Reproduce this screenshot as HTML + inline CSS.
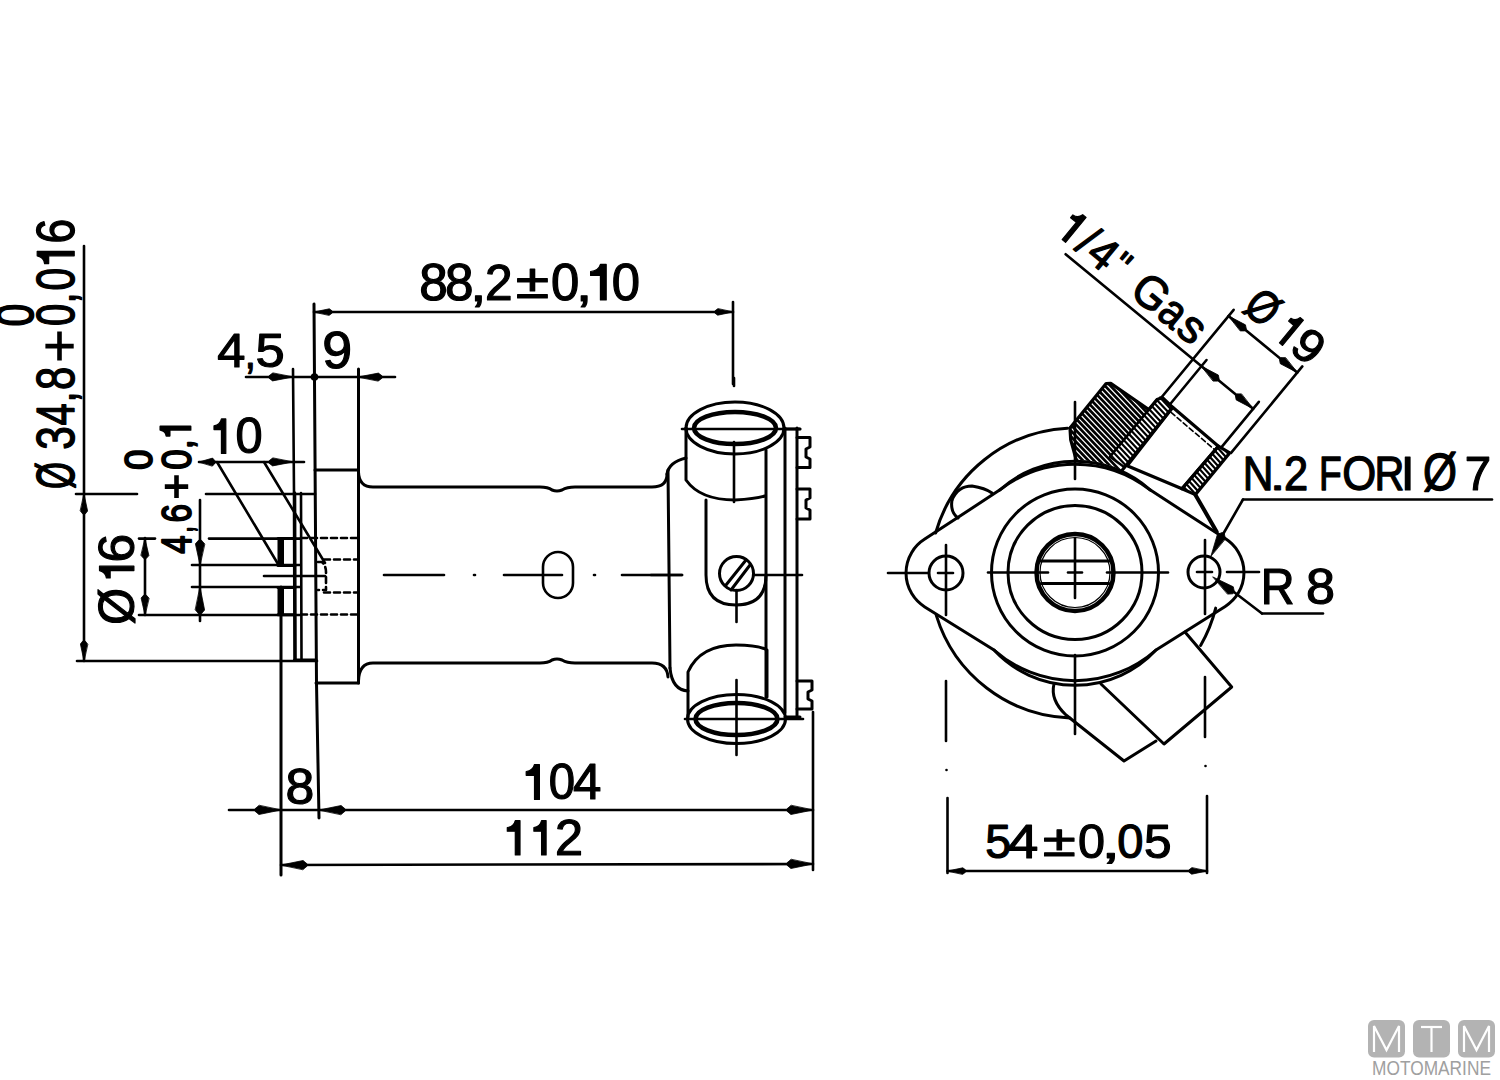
<!DOCTYPE html>
<html><head><meta charset="utf-8"><style>
html,body{margin:0;padding:0;background:#fff;width:1500px;height:1080px;overflow:hidden}
svg{position:absolute;left:0;top:0}
text{font-family:"Liberation Sans",sans-serif}
</style></head><body>
<svg width="1500" height="1080" viewBox="0 0 1500 1080" stroke="#000" stroke-linecap="round" stroke-linejoin="round" fill="none">
<line x1="84.0" y1="246.0" x2="84.0" y2="661.0" stroke-width="2.6"/>
<polygon points="84.0,494.0 87.6,511.0 85.2,514.0 82.8,514.0 80.4,511.0" fill="#000" stroke="#000" stroke-width="0.8"/>
<polygon points="84.0,661.0 80.4,644.0 82.8,641.0 85.2,641.0 87.6,644.0" fill="#000" stroke="#000" stroke-width="0.8"/>
<line x1="76.0" y1="494.0" x2="137.0" y2="494.0" stroke-width="2.6"/>
<line x1="206.0" y1="494.0" x2="315.0" y2="494.0" stroke-width="2.6"/>
<line x1="77.0" y1="661.0" x2="317.0" y2="661.0" stroke-width="2.6"/>
<text x="0" y="0" font-size="100" text-anchor="middle" transform="rotate(-90) translate(-231.1,74.2) scale(0.4457,0.5288)" fill="#000" stroke="#000" stroke-width="1.2" vector-effect="non-scaling-stroke">6</text>
<path d="M0.63,0 L1,0 L1,1 L0.63,1 L0.63,0.31 L0,0.31 L0,0.20 C0.30,0.19 0.55,0.12 0.63,0 Z" transform="rotate(-90) translate(-263.6,37.2) scale(12.300,37.000)" fill="#000" stroke="#000" stroke-width="1.2" vector-effect="non-scaling-stroke"/>
<text x="0" y="0" font-size="100" text-anchor="middle" transform="rotate(-90) translate(-279.2,74.2) scale(0.4083,0.5288)" fill="#000" stroke="#000" stroke-width="1.2" vector-effect="non-scaling-stroke">0</text>
<text x="0" y="0" font-size="100" text-anchor="middle" transform="rotate(-90) translate(-297.8,74.8) scale(0.3900,0.4957)" fill="#000" stroke="#000" stroke-width="1.2" vector-effect="non-scaling-stroke">,</text>
<text x="0" y="0" font-size="100" text-anchor="middle" transform="rotate(-90) translate(-314.8,74.2) scale(0.4000,0.5288)" fill="#000" stroke="#000" stroke-width="1.2" vector-effect="non-scaling-stroke">0</text>
<path d="M59.5,331.6 V360.5 M45.4,346.1 H73.7" stroke-width="4.6" stroke-linecap="butt"/>
<text x="0" y="0" font-size="100" text-anchor="middle" transform="rotate(-90) translate(-378.4,74.2) scale(0.4174,0.5288)" fill="#000" stroke="#000" stroke-width="1.2" vector-effect="non-scaling-stroke">8</text>
<text x="0" y="0" font-size="100" text-anchor="middle" transform="rotate(-90) translate(-396.8,74.8) scale(0.3900,0.4957)" fill="#000" stroke="#000" stroke-width="1.2" vector-effect="non-scaling-stroke">,</text>
<text x="0" y="0" font-size="100" text-anchor="middle" transform="rotate(-90) translate(-414.4,74.2) scale(0.3980,0.5281)" fill="#000" stroke="#000" stroke-width="1.2" vector-effect="non-scaling-stroke">4</text>
<text x="0" y="0" font-size="100" text-anchor="middle" transform="rotate(-90) translate(-438.1,74.2) scale(0.4234,0.5288)" fill="#000" stroke="#000" stroke-width="1.2" vector-effect="non-scaling-stroke">3</text>
<text x="0" y="0" font-size="100" text-anchor="middle" transform="rotate(-90) translate(-475.6,74.2) scale(0.3471,0.5295)" fill="#000" stroke="#000" stroke-width="1.2" vector-effect="non-scaling-stroke">Ø</text>
<text x="0" y="0" font-size="100" text-anchor="middle" transform="rotate(-90) translate(-315.0,33.3) scale(0.4104,0.5246)" fill="#000" stroke="#000" stroke-width="1.5" vector-effect="non-scaling-stroke">0</text>
<line x1="145.0" y1="538.0" x2="145.0" y2="615.0" stroke-width="2.6"/>
<polygon points="145.0,538.6 148.9,555.6 146.2,558.6 143.8,558.6 141.1,555.6" fill="#000" stroke="#000" stroke-width="0.8"/>
<polygon points="145.0,615.0 141.1,598.0 143.8,595.0 146.2,595.0 148.9,598.0" fill="#000" stroke="#000" stroke-width="0.8"/>
<line x1="139.0" y1="538.6" x2="155.0" y2="538.6" stroke-width="2.6"/>
<line x1="209.0" y1="538.6" x2="300.0" y2="538.6" stroke-width="2.6"/>
<line x1="139.0" y1="615.0" x2="300.0" y2="615.0" stroke-width="2.6"/>
<text x="0" y="0" font-size="100" text-anchor="middle" transform="rotate(-90) translate(-548.1,133.9) scale(0.5174,0.4917)" fill="#000" stroke="#000" stroke-width="1.2" vector-effect="non-scaling-stroke">6</text>
<path d="M0.63,0 L1,0 L1,1 L0.63,1 L0.63,0.31 L0,0.31 L0,0.20 C0.30,0.19 0.55,0.12 0.63,0 Z" transform="rotate(-90) translate(-578.0,99.5) scale(11.800,34.400)" fill="#000" stroke="#000" stroke-width="1.2" vector-effect="non-scaling-stroke"/>
<text x="0" y="0" font-size="100" text-anchor="middle" transform="rotate(-90) translate(-606.4,133.9) scale(0.4714,0.4924)" fill="#000" stroke="#000" stroke-width="1.2" vector-effect="non-scaling-stroke">Ø</text>
<line x1="200.0" y1="500.0" x2="200.0" y2="621.0" stroke-width="2.6"/>
<polygon points="200.0,565.0 195.4,543.8 198.8,540.0 201.2,540.0 204.6,543.8" fill="#000" stroke="#000" stroke-width="0.8"/>
<polygon points="200.0,587.0 204.6,610.0 201.2,614.0 198.8,614.0 195.4,610.0" fill="#000" stroke="#000" stroke-width="0.8"/>
<line x1="192.0" y1="565.0" x2="300.0" y2="565.0" stroke-width="2.6"/>
<line x1="192.0" y1="587.0" x2="300.0" y2="587.0" stroke-width="2.6"/>
<path d="M0.63,0 L1,0 L1,1 L0.63,1 L0.63,0.31 L0,0.31 L0,0.20 C0.30,0.19 0.55,0.12 0.63,0 Z" transform="rotate(-90) translate(-435.8,160.3) scale(9.400,30.300)" fill="#000" stroke="#000" stroke-width="1.7" vector-effect="non-scaling-stroke"/>
<text x="0" y="0" font-size="100" text-anchor="middle" transform="rotate(-90) translate(-444.4,191.6) scale(0.3400,0.3863)" fill="#000" stroke="#000" stroke-width="1.7" vector-effect="non-scaling-stroke">,</text>
<text x="0" y="0" font-size="100" text-anchor="middle" transform="rotate(-90) translate(-459.6,190.7) scale(0.3667,0.4332)" fill="#000" stroke="#000" stroke-width="1.7" vector-effect="non-scaling-stroke">0</text>
<path d="M176.5,475.2 V498.0 M164.8,486.6 H188.2" stroke-width="4.6" stroke-linecap="butt"/>
<text x="0" y="0" font-size="100" text-anchor="middle" transform="rotate(-90) translate(-513.3,190.7) scale(0.3304,0.4332)" fill="#000" stroke="#000" stroke-width="1.7" vector-effect="non-scaling-stroke">6</text>
<text x="0" y="0" font-size="100" text-anchor="middle" transform="rotate(-90) translate(-529.5,191.6) scale(0.2200,0.3863)" fill="#000" stroke="#000" stroke-width="1.7" vector-effect="non-scaling-stroke">,</text>
<text x="0" y="0" font-size="100" text-anchor="middle" transform="rotate(-90) translate(-544.5,190.6) scale(0.3300,0.4321)" fill="#000" stroke="#000" stroke-width="1.7" vector-effect="non-scaling-stroke">4</text>
<text x="0" y="0" font-size="100" text-anchor="middle" transform="rotate(-90) translate(-459.6,152.1) scale(0.3625,0.3875)" fill="#000" stroke="#000" stroke-width="1.9" vector-effect="non-scaling-stroke">0</text>
<line x1="199.0" y1="462.0" x2="304.0" y2="462.0" stroke-width="2.6"/>
<polygon points="199.0,462.0 212.6,458.1 215.0,460.8 215.0,463.2 212.6,465.9" fill="#000" stroke="#000" stroke-width="0.8"/>
<polygon points="293.0,462.0 272.6,465.9 269.0,463.2 269.0,460.8 272.6,458.1" fill="#000" stroke="#000" stroke-width="0.8"/>
<path d="M0.63,0 L1,0 L1,1 L0.63,1 L0.63,0.31 L0,0.31 L0,0.20 C0.30,0.19 0.55,0.12 0.63,0 Z" transform="translate(214.0,418.9) scale(11.800,34.500)" fill="#000" stroke="#000" stroke-width="1.2" vector-effect="non-scaling-stroke"/>
<text x="0" y="0" font-size="100" text-anchor="middle" transform="translate(249.1,453.4) scale(0.4875,0.4931)" fill="#000" stroke="#000" stroke-width="1.2" vector-effect="non-scaling-stroke">0</text>
<line x1="217.0" y1="462.0" x2="278.0" y2="564.0" stroke-width="2.6"/>
<line x1="264.0" y1="462.0" x2="325.0" y2="563.0" stroke-width="2.6"/>
<line x1="246.0" y1="377.0" x2="395.0" y2="377.0" stroke-width="2.6"/>
<circle cx="314.5" cy="377.0" r="3.8" stroke-width="0" fill="#000"/>
<polygon points="293.0,377.0 272.6,380.9 269.0,378.2 269.0,375.8 272.6,373.1" fill="#000" stroke="#000" stroke-width="0.8"/>
<polygon points="358.0,377.0 378.4,373.1 382.0,375.8 382.0,378.2 378.4,380.9" fill="#000" stroke="#000" stroke-width="0.8"/>
<text x="0" y="0" font-size="100" text-anchor="middle" transform="translate(231.2,366.9) scale(0.5060,0.4824)" fill="#000" stroke="#000" stroke-width="1.2" vector-effect="non-scaling-stroke">4</text>
<text x="0" y="0" font-size="100" text-anchor="middle" transform="translate(250.4,367.6) scale(0.4000,0.4500)" fill="#000" stroke="#000" stroke-width="1.2" vector-effect="non-scaling-stroke">,</text>
<text x="0" y="0" font-size="100" text-anchor="middle" transform="translate(270.2,366.9) scale(0.5255,0.4829)" fill="#000" stroke="#000" stroke-width="1.2" vector-effect="non-scaling-stroke">5</text>
<text x="0" y="0" font-size="100" text-anchor="middle" transform="translate(337.2,367.8) scale(0.5370,0.5102)" fill="#000" stroke="#000" stroke-width="1.2" vector-effect="non-scaling-stroke">9</text>
<line x1="293.0" y1="369.0" x2="294.0" y2="493.0" stroke-width="2.6"/>
<line x1="314.0" y1="304.0" x2="316.5" y2="683.0" stroke-width="3.0"/>
<line x1="316.5" y1="683.0" x2="319.0" y2="818.0" stroke-width="3.0"/>
<line x1="358.5" y1="369.0" x2="358.5" y2="683.0" stroke-width="3.0"/>
<line x1="314.0" y1="312.0" x2="733.0" y2="312.0" stroke-width="2.6"/>
<polygon points="314.0,312.0 329.3,308.8 332.0,310.8 332.0,313.2 329.3,315.2" fill="#000" stroke="#000" stroke-width="0.8"/>
<polygon points="733.0,312.0 717.7,315.2 715.0,313.2 715.0,310.8 717.7,308.8" fill="#000" stroke="#000" stroke-width="0.8"/>
<line x1="733.0" y1="302.0" x2="733.0" y2="384.0" stroke-width="2.6"/>
<text x="0" y="0" font-size="100" text-anchor="middle" transform="translate(433.6,300.0) scale(0.5130,0.5088)" fill="#000" stroke="#000" stroke-width="1.2" vector-effect="non-scaling-stroke">8</text>
<text x="0" y="0" font-size="100" text-anchor="middle" transform="translate(459.2,300.0) scale(0.5130,0.5088)" fill="#000" stroke="#000" stroke-width="1.2" vector-effect="non-scaling-stroke">8</text>
<text x="0" y="0" font-size="100" text-anchor="middle" transform="translate(478.4,300.7) scale(0.6000,0.4757)" fill="#000" stroke="#000" stroke-width="1.2" vector-effect="non-scaling-stroke">,</text>
<text x="0" y="0" font-size="100" text-anchor="middle" transform="translate(498.8,300.0) scale(0.4957,0.5086)" fill="#000" stroke="#000" stroke-width="1.2" vector-effect="non-scaling-stroke">2</text>
<text x="0" y="0" font-size="100" text-anchor="middle" transform="translate(532.4,298.4) scale(0.6083,0.4733)" fill="#000" stroke="#000" stroke-width="1.2" vector-effect="non-scaling-stroke">±</text>
<text x="0" y="0" font-size="100" text-anchor="middle" transform="translate(565.2,300.0) scale(0.5083,0.5088)" fill="#000" stroke="#000" stroke-width="1.2" vector-effect="non-scaling-stroke">0</text>
<text x="0" y="0" font-size="100" text-anchor="middle" transform="translate(584.0,300.7) scale(0.6000,0.4757)" fill="#000" stroke="#000" stroke-width="1.2" vector-effect="non-scaling-stroke">,</text>
<path d="M0.63,0 L1,0 L1,1 L0.63,1 L0.63,0.31 L0,0.31 L0,0.20 C0.30,0.19 0.55,0.12 0.63,0 Z" transform="translate(590.6,264.4) scale(15.600,35.600)" fill="#000" stroke="#000" stroke-width="1.2" vector-effect="non-scaling-stroke"/>
<text x="0" y="0" font-size="100" text-anchor="middle" transform="translate(626.0,300.0) scale(0.5083,0.5088)" fill="#000" stroke="#000" stroke-width="1.2" vector-effect="non-scaling-stroke">0</text>
<line x1="315.0" y1="470.0" x2="358.5" y2="470.0" stroke-width="3.0"/>
<line x1="316.0" y1="683.0" x2="358.5" y2="683.0" stroke-width="3.0"/>
<line x1="294.5" y1="493.0" x2="295.0" y2="660.0" stroke-width="3.6"/>
<line x1="301.0" y1="493.0" x2="301.5" y2="660.0" stroke-width="2.6"/>
<line x1="294.5" y1="660.0" x2="316.0" y2="660.0" stroke-width="3.0"/>
<rect x="277.5" y="538" width="6.5" height="27.5" fill="#000" stroke="none"/>
<polyline points="278.0,538.6 295.0,538.6" stroke-width="3.0" fill="none"/>
<polyline points="278.0,565.5 295.0,565.5" stroke-width="3.0" fill="none"/>
<rect x="277.5" y="587" width="6.5" height="28" fill="#000" stroke="none"/>
<polyline points="278.0,587.5 295.0,587.5" stroke-width="3.0" fill="none"/>
<polyline points="278.0,614.8 295.0,614.8" stroke-width="3.0" fill="none"/>
<line x1="264.0" y1="576.0" x2="325.0" y2="576.0" stroke-width="2.6"/>
<g stroke-dasharray="6 4">
<line x1="301.0" y1="538.0" x2="358.0" y2="538.0" stroke-width="2.6"/>
<line x1="324.0" y1="559.5" x2="358.0" y2="559.5" stroke-width="2.6"/>
<line x1="324.0" y1="592.5" x2="358.0" y2="592.5" stroke-width="2.6"/>
<line x1="301.0" y1="614.5" x2="358.0" y2="614.5" stroke-width="2.6"/>
<path d="M318,562 L322,562 Q326,566 326,572 L326,590 L318,590" stroke-width="2.6" fill="none" />
</g>
<line x1="281.0" y1="587.0" x2="281.0" y2="875.0" stroke-width="3.0"/>
<path d="M358.5,472 Q359,487 373,487 L540,487 Q548,487 552,490 Q557,492 562,490 Q567,487 575,487 L652,487 Q667,487 667,474" stroke-width="3.0" fill="none" />
<path d="M358.5,681 Q359,663 373,663 L540,663 Q548,663 552,660 Q557,658 562,660 Q567,663 575,663 L652,663 Q667,663 668,677" stroke-width="3.0" fill="none" />
<rect x="543" y="552" width="30" height="46" rx="15" ry="15" stroke-width="2.6"/>
<line x1="384.0" y1="575.0" x2="444.0" y2="575.0" stroke-width="2.6"/>
<line x1="474.0" y1="575.0" x2="475.0" y2="575.0" stroke-width="2.6"/>
<line x1="504.0" y1="575.0" x2="562.0" y2="575.0" stroke-width="2.6"/>
<line x1="594.0" y1="575.0" x2="595.0" y2="575.0" stroke-width="2.6"/>
<line x1="622.0" y1="575.0" x2="682.0" y2="575.0" stroke-width="2.6"/>
<path d="M667,474 Q669,462 686,458" stroke-width="3.0" fill="none" />
<line x1="668.0" y1="470.0" x2="670.0" y2="668.0" stroke-width="3.0"/>
<path d="M670,668 Q672,690 688,691" stroke-width="3.0" fill="none" />
<path d="M686,428 A49,26 0 0 1 784,428" stroke-width="3.0" fill="none" />
<path d="M686,428 L686,480 Q700,500 735,500 Q755,499 765,496" stroke-width="3.0" fill="none" />
<path d="M686,428 A49,26 0 0 0 784,428" stroke-width="3.0" fill="none" />
<ellipse cx="735.0" cy="428.0" rx="41.0" ry="16.0" stroke-width="4.5" fill="none"/>
<line x1="682.0" y1="429.0" x2="800.0" y2="429.0" stroke-width="2.6"/>
<line x1="734.0" y1="442.0" x2="734.0" y2="502.0" stroke-width="2.6"/>
<line x1="734.0" y1="378.0" x2="734.0" y2="386.0" stroke-width="2.6"/>
<circle cx="736.5" cy="573.5" r="17.0" stroke-width="3.0" fill="none"/>
<line x1="726.0" y1="585.0" x2="746.0" y2="560.0" stroke-width="3"/>
<line x1="731.0" y1="590.0" x2="750.0" y2="565.0" stroke-width="3"/>
<line x1="651.0" y1="575.0" x2="682.0" y2="575.0" stroke-width="2.6"/>
<line x1="754.0" y1="575.0" x2="802.0" y2="575.0" stroke-width="2.6"/>
<line x1="736.5" y1="590.0" x2="736.5" y2="622.0" stroke-width="2.6"/>
<path d="M706,500 L706,575 Q706,605 736,605 Q766,605 766,575" stroke-width="3.0" fill="none" />
<line x1="766.0" y1="450.0" x2="766.0" y2="697.0" stroke-width="3.0"/>
<line x1="785.0" y1="428.0" x2="785.0" y2="713.0" stroke-width="3.0"/>
<line x1="797.0" y1="428.0" x2="797.0" y2="717.0" stroke-width="3.0"/>
<line x1="784.0" y1="429.0" x2="800.0" y2="429.0" stroke-width="3.0"/>
<line x1="785.0" y1="717.0" x2="800.0" y2="717.0" stroke-width="3.0"/>
<polyline points="797.0,437.5 810.0,437.5 810.0,447.0 806.0,449.0 806.0,457.0 810.0,459.0 810.0,467.5 797.0,467.5" stroke-width="3.0" fill="none"/>
<polyline points="797.0,489.0 810.0,489.0 810.0,498.0 806.0,500.0 806.0,508.0 810.0,510.0 810.0,519.0 797.0,519.0" stroke-width="3.0" fill="none"/>
<polyline points="797.0,681.0 812.0,681.0 812.0,690.0 808.0,692.0 808.0,699.0 812.0,701.0 812.0,709.0 797.0,709.0" stroke-width="3.0" fill="none"/>
<path d="M688,717 L688,672 Q700,645 736,645 Q758,645 767,650 L767,697" stroke-width="3.0" fill="none" />
<ellipse cx="736.5" cy="719.0" rx="49.0" ry="24.5" stroke-width="3.0" fill="none"/>
<ellipse cx="736.5" cy="719.0" rx="41.0" ry="16.0" stroke-width="4.5" fill="none"/>
<line x1="685.0" y1="719.0" x2="803.0" y2="719.0" stroke-width="2.6"/>
<line x1="736.5" y1="680.0" x2="736.5" y2="755.0" stroke-width="2.6"/>
<line x1="813.0" y1="712.0" x2="813.0" y2="870.0" stroke-width="2.6"/>
<line x1="229.0" y1="810.0" x2="813.0" y2="810.0" stroke-width="2.6"/>
<polygon points="281.0,810.0 258.9,814.5 255.0,811.2 255.0,808.8 258.9,805.5" fill="#000" stroke="#000" stroke-width="0.8"/>
<polygon points="319.0,810.0 341.1,805.5 345.0,808.8 345.0,811.2 341.1,814.5" fill="#000" stroke="#000" stroke-width="0.8"/>
<polygon points="813.0,810.0 790.9,814.5 787.0,811.2 787.0,808.8 790.9,805.5" fill="#000" stroke="#000" stroke-width="0.8"/>
<text x="0" y="0" font-size="100" text-anchor="middle" transform="translate(299.9,803.8) scale(0.5174,0.5031)" fill="#000" stroke="#000" stroke-width="1.2" vector-effect="non-scaling-stroke">8</text>
<path d="M0.63,0 L1,0 L1,1 L0.63,1 L0.63,0.31 L0,0.31 L0,0.20 C0.30,0.19 0.55,0.12 0.63,0 Z" transform="translate(526.2,764.5) scale(13.200,34.900)" fill="#000" stroke="#000" stroke-width="1.2" vector-effect="non-scaling-stroke"/>
<text x="0" y="0" font-size="100" text-anchor="middle" transform="translate(562.0,799.4) scale(0.4729,0.4988)" fill="#000" stroke="#000" stroke-width="1.2" vector-effect="non-scaling-stroke">0</text>
<text x="0" y="0" font-size="100" text-anchor="middle" transform="translate(587.2,799.4) scale(0.5100,0.4981)" fill="#000" stroke="#000" stroke-width="1.2" vector-effect="non-scaling-stroke">4</text>
<line x1="281.0" y1="865.0" x2="813.0" y2="864.0" stroke-width="2.6"/>
<polygon points="281.0,865.0 303.1,860.5 307.0,863.8 307.0,866.2 303.1,869.5" fill="#000" stroke="#000" stroke-width="0.8"/>
<polygon points="813.0,864.0 790.9,868.5 787.0,865.2 787.0,862.8 790.9,859.5" fill="#000" stroke="#000" stroke-width="0.8"/>
<path d="M0.63,0 L1,0 L1,1 L0.63,1 L0.63,0.31 L0,0.31 L0,0.20 C0.30,0.19 0.55,0.12 0.63,0 Z" transform="translate(507.3,820.6) scale(12.700,34.400)" fill="#000" stroke="#000" stroke-width="1.2" vector-effect="non-scaling-stroke"/>
<path d="M0.63,0 L1,0 L1,1 L0.63,1 L0.63,0.31 L0,0.31 L0,0.20 C0.30,0.19 0.55,0.12 0.63,0 Z" transform="translate(533.9,820.6) scale(12.200,34.400)" fill="#000" stroke="#000" stroke-width="1.2" vector-effect="non-scaling-stroke"/>
<text x="0" y="0" font-size="100" text-anchor="middle" transform="translate(568.9,855.0) scale(0.5043,0.4914)" fill="#000" stroke="#000" stroke-width="1.2" vector-effect="non-scaling-stroke">2</text>
<path d="M935.6,533.0 A145.0,145.0 0 0 1 1067.4,428.2" stroke-width="3.0" fill="none" />
<path d="M1069.9,717.9 A145.0,145.0 0 0 1 936.3,615.4" stroke-width="3.0" fill="none" />
<path d="M1215.7,608.1 A145.0,145.0 0 0 1 1200.6,645.5" stroke-width="3.0" fill="none" />
<path d="M924.8,539.1 L999.6,490.1 A112.9,112.9 0 0 1 1150.4,490.1 L1225.2,538.6 A40,40 0 0 1 1225.2,606.4 L1156.0,650.0 A110.6,110.6 0 0 1 994.0,650.0 L924.8,606.9 A40,40 0 0 1 924.8,539.1 Z" stroke-width="3.0" fill="none" />
<path d="M999.6,490.1 A122.7,122.7 0 0 1 1150.4,490.1" stroke-width="3.0" fill="none" />
<path d="M1156.0,650.0 A122.2,122.2 0 0 1 994.0,650.0" stroke-width="3.0" fill="none" />
<circle cx="1075.0" cy="572.5" r="83.5" stroke-width="3.0" fill="none"/>
<circle cx="1075.0" cy="572.5" r="67.0" stroke-width="3.0" fill="none"/>
<circle cx="1075.0" cy="572.5" r="38.5" stroke-width="4.5" fill="none"/>
<circle cx="1075.0" cy="572.5" r="35.0" stroke-width="1.2" fill="none"/>
<line x1="1041.0" y1="561.0" x2="1109.0" y2="561.0" stroke-width="3.0"/>
<line x1="1041.0" y1="583.5" x2="1109.0" y2="583.5" stroke-width="3.0"/>
<line x1="888.0" y1="573.0" x2="928.0" y2="573.0" stroke-width="2.6"/>
<line x1="938.0" y1="573.0" x2="953.0" y2="573.0" stroke-width="2.6"/>
<line x1="988.0" y1="572.5" x2="1048.0" y2="572.5" stroke-width="2.6"/>
<line x1="1068.0" y1="572.5" x2="1082.0" y2="572.5" stroke-width="2.6"/>
<line x1="1107.0" y1="572.5" x2="1168.0" y2="572.5" stroke-width="2.6"/>
<line x1="1197.0" y1="572.0" x2="1212.0" y2="572.0" stroke-width="2.6"/>
<line x1="1227.0" y1="572.0" x2="1259.0" y2="572.0" stroke-width="2.6"/>
<line x1="1075.0" y1="402.0" x2="1075.0" y2="479.0" stroke-width="2.6"/>
<line x1="1075.0" y1="538.0" x2="1075.0" y2="598.0" stroke-width="2.6"/>
<line x1="1075.0" y1="655.0" x2="1075.0" y2="734.0" stroke-width="2.6"/>
<circle cx="946.0" cy="573.0" r="17.0" stroke-width="3.0" fill="none"/>
<circle cx="1204.0" cy="572.0" r="16.0" stroke-width="3.0" fill="none"/>
<line x1="946.0" y1="545.0" x2="946.0" y2="615.0" stroke-width="2.6"/>
<line x1="946.0" y1="681.0" x2="946.0" y2="741.0" stroke-width="2.6"/>
<line x1="947.5" y1="798.0" x2="947.5" y2="873.0" stroke-width="2.6"/>
<line x1="1205.0" y1="540.0" x2="1205.0" y2="614.0" stroke-width="2.6"/>
<line x1="1205.0" y1="677.0" x2="1205.0" y2="737.0" stroke-width="2.6"/>
<line x1="1207.0" y1="796.0" x2="1207.0" y2="873.0" stroke-width="2.6"/>
<line x1="947.5" y1="871.0" x2="1207.0" y2="871.0" stroke-width="2.6"/>
<polygon points="947.5,871.0 962.8,867.8 965.5,869.8 965.5,872.2 962.8,874.2" fill="#000" stroke="#000" stroke-width="0.8"/>
<polygon points="1207.0,871.0 1191.7,874.2 1189.0,872.2 1189.0,869.8 1191.7,867.8" fill="#000" stroke="#000" stroke-width="0.8"/>
<text x="0" y="0" font-size="100" text-anchor="middle" transform="translate(998.2,857.7) scale(0.4660,0.4829)" fill="#000" stroke="#000" stroke-width="1.2" vector-effect="non-scaling-stroke">5</text>
<text x="0" y="0" font-size="100" text-anchor="middle" transform="translate(1023.0,857.7) scale(0.5500,0.4824)" fill="#000" stroke="#000" stroke-width="1.2" vector-effect="non-scaling-stroke">4</text>
<text x="0" y="0" font-size="100" text-anchor="middle" transform="translate(1059.3,856.3) scale(0.6021,0.4467)" fill="#000" stroke="#000" stroke-width="1.2" vector-effect="non-scaling-stroke">±</text>
<text x="0" y="0" font-size="100" text-anchor="middle" transform="translate(1091.5,857.7) scale(0.4854,0.4831)" fill="#000" stroke="#000" stroke-width="1.2" vector-effect="non-scaling-stroke">0</text>
<text x="0" y="0" font-size="100" text-anchor="middle" transform="translate(1110.8,858.3) scale(0.7200,0.4500)" fill="#000" stroke="#000" stroke-width="1.2" vector-effect="non-scaling-stroke">,</text>
<text x="0" y="0" font-size="100" text-anchor="middle" transform="translate(1130.4,857.7) scale(0.4708,0.4831)" fill="#000" stroke="#000" stroke-width="1.2" vector-effect="non-scaling-stroke">0</text>
<text x="0" y="0" font-size="100" text-anchor="middle" transform="translate(1157.8,857.7) scale(0.4957,0.4829)" fill="#000" stroke="#000" stroke-width="1.2" vector-effect="non-scaling-stroke">5</text>
<path d="M952,500 Q958,486 972,486 Q985,488 992,493" stroke-width="3.0" fill="none" />
<path d="M952,500 Q950,512 958,518" stroke-width="3.0" fill="none" />
<path d="M1054,684 Q1050,700 1066,715 L1124,761 L1156,741" stroke-width="3.0" fill="none" />
<polyline points="1101.0,684.0 1164.0,744.0 1231.7,687.0 1185.0,632.0" stroke-width="3.0" fill="none"/>
<text x="0" y="0" font-size="100" text-anchor="middle" transform="translate(1258.1,489.5) scale(0.4250,0.4883)" fill="#000" stroke="#000" stroke-width="1.2" vector-effect="non-scaling-stroke">N</text>
<text x="0" y="0" font-size="100" text-anchor="middle" transform="translate(1277.5,489.5) scale(0.5800,0.3966)" fill="#000" stroke="#000" stroke-width="1.2" vector-effect="non-scaling-stroke">.</text>
<text x="0" y="0" font-size="100" text-anchor="middle" transform="translate(1296.0,489.5) scale(0.4348,0.4886)" fill="#000" stroke="#000" stroke-width="1.2" vector-effect="non-scaling-stroke">2</text>
<text x="0" y="0" font-size="100" text-anchor="middle" transform="translate(1330.4,489.5) scale(0.3714,0.4883)" fill="#000" stroke="#000" stroke-width="1.2" vector-effect="non-scaling-stroke">F</text>
<text x="0" y="0" font-size="100" text-anchor="middle" transform="translate(1359.2,489.5) scale(0.4368,0.4888)" fill="#000" stroke="#000" stroke-width="1.2" vector-effect="non-scaling-stroke">O</text>
<text x="0" y="0" font-size="100" text-anchor="middle" transform="translate(1389.4,489.5) scale(0.4136,0.4881)" fill="#000" stroke="#000" stroke-width="1.2" vector-effect="non-scaling-stroke">R</text>
<text x="0" y="0" font-size="100" text-anchor="middle" transform="translate(1407.7,489.5) scale(0.5000,0.4883)" fill="#000" stroke="#000" stroke-width="1.2" vector-effect="non-scaling-stroke">I</text>
<text x="0" y="0" font-size="100" text-anchor="middle" transform="translate(1439.9,490.2) scale(0.4371,0.5216)" fill="#000" stroke="#000" stroke-width="1.2" vector-effect="non-scaling-stroke">Ø</text>
<text x="0" y="0" font-size="100" text-anchor="middle" transform="translate(1477.9,489.5) scale(0.4739,0.4881)" fill="#000" stroke="#000" stroke-width="1.2" vector-effect="non-scaling-stroke">7</text>
<line x1="1243.0" y1="499.5" x2="1492.0" y2="499.5" stroke-width="2.6"/>
<line x1="1243.0" y1="499.5" x2="1222.0" y2="536.0" stroke-width="2.6"/>
<polygon points="1211.0,556.0 1217.4,534.4 1222.1,532.5 1224.3,533.6 1225.4,538.6" fill="#000" stroke="#000" stroke-width="0.8"/>
<text x="0" y="0" font-size="100" text-anchor="middle" transform="translate(1277.7,604.4) scale(0.4678,0.4966)" fill="#000" stroke="#000" stroke-width="1.2" vector-effect="non-scaling-stroke">R</text>
<text x="0" y="0" font-size="100" text-anchor="middle" transform="translate(1320.4,604.4) scale(0.5217,0.4974)" fill="#000" stroke="#000" stroke-width="1.2" vector-effect="non-scaling-stroke">8</text>
<line x1="1262.0" y1="613.5" x2="1323.0" y2="613.5" stroke-width="2.6"/>
<line x1="1262.0" y1="613.5" x2="1230.0" y2="589.0" stroke-width="2.6"/>
<polygon points="1213.0,577.0 1233.3,586.8 1234.4,591.9 1232.9,593.8 1227.8,594.1" fill="#000" stroke="#000" stroke-width="0.8"/>
<g transform="translate(1075 573) rotate(-50.5)">
<defs><clipPath id="blk"><polygon points="108.7,-96.1 168,-96.5 173,-47 113,-47 109.1,-29.0 107.0,-36.0 104.4,-43.0 101.2,-50.0 97.5,-57.0 93.0,-64.0 87.8,-71.0 100,-88"/></clipPath><clipPath id="stL"><polygon points="113,-47 191,-47 190,-30 113,-29"/></clipPath><clipPath id="stR"><polygon points="133,29 189,30 191,43 137,43"/></clipPath></defs>
<g clip-path="url(#blk)">
<line x1="88.0" y1="-100.0" x2="79.0" y2="-25.0" stroke-width="2.7"/>
<line x1="92.0" y1="-100.0" x2="83.0" y2="-25.0" stroke-width="2.7"/>
<line x1="96.0" y1="-100.0" x2="87.0" y2="-25.0" stroke-width="2.7"/>
<line x1="100.0" y1="-100.0" x2="91.0" y2="-25.0" stroke-width="2.7"/>
<line x1="104.0" y1="-100.0" x2="95.0" y2="-25.0" stroke-width="2.7"/>
<line x1="108.0" y1="-100.0" x2="99.0" y2="-25.0" stroke-width="2.7"/>
<line x1="112.0" y1="-100.0" x2="103.0" y2="-25.0" stroke-width="2.7"/>
<line x1="116.0" y1="-100.0" x2="107.0" y2="-25.0" stroke-width="2.7"/>
<line x1="120.0" y1="-100.0" x2="111.0" y2="-25.0" stroke-width="2.7"/>
<line x1="124.0" y1="-100.0" x2="115.0" y2="-25.0" stroke-width="2.7"/>
<line x1="128.0" y1="-100.0" x2="119.0" y2="-25.0" stroke-width="2.7"/>
<line x1="132.0" y1="-100.0" x2="123.0" y2="-25.0" stroke-width="2.7"/>
<line x1="136.0" y1="-100.0" x2="127.0" y2="-25.0" stroke-width="2.7"/>
<line x1="140.0" y1="-100.0" x2="131.0" y2="-25.0" stroke-width="2.7"/>
<line x1="144.0" y1="-100.0" x2="135.0" y2="-25.0" stroke-width="2.7"/>
<line x1="148.0" y1="-100.0" x2="139.0" y2="-25.0" stroke-width="2.7"/>
<line x1="152.0" y1="-100.0" x2="143.0" y2="-25.0" stroke-width="2.7"/>
<line x1="156.0" y1="-100.0" x2="147.0" y2="-25.0" stroke-width="2.7"/>
<line x1="160.0" y1="-100.0" x2="151.0" y2="-25.0" stroke-width="2.7"/>
<line x1="164.0" y1="-100.0" x2="155.0" y2="-25.0" stroke-width="2.7"/>
<line x1="168.0" y1="-100.0" x2="159.0" y2="-25.0" stroke-width="2.7"/>
<line x1="172.0" y1="-100.0" x2="163.0" y2="-25.0" stroke-width="2.7"/>
<line x1="176.0" y1="-100.0" x2="167.0" y2="-25.0" stroke-width="2.7"/>
<line x1="180.0" y1="-100.0" x2="171.0" y2="-25.0" stroke-width="2.7"/>
<line x1="184.0" y1="-100.0" x2="175.0" y2="-25.0" stroke-width="2.7"/>
</g>
<g clip-path="url(#stL)">
<line x1="114.0" y1="-50.0" x2="111.0" y2="-27.0" stroke-width="2.2"/>
<line x1="118.0" y1="-50.0" x2="115.0" y2="-27.0" stroke-width="2.2"/>
<line x1="122.0" y1="-50.0" x2="119.0" y2="-27.0" stroke-width="2.2"/>
<line x1="126.0" y1="-50.0" x2="123.0" y2="-27.0" stroke-width="2.2"/>
<line x1="130.0" y1="-50.0" x2="127.0" y2="-27.0" stroke-width="2.2"/>
<line x1="134.0" y1="-50.0" x2="131.0" y2="-27.0" stroke-width="2.2"/>
<line x1="138.0" y1="-50.0" x2="135.0" y2="-27.0" stroke-width="2.2"/>
<line x1="142.0" y1="-50.0" x2="139.0" y2="-27.0" stroke-width="2.2"/>
<line x1="146.0" y1="-50.0" x2="143.0" y2="-27.0" stroke-width="2.2"/>
<line x1="150.0" y1="-50.0" x2="147.0" y2="-27.0" stroke-width="2.2"/>
<line x1="154.0" y1="-50.0" x2="151.0" y2="-27.0" stroke-width="2.2"/>
<line x1="158.0" y1="-50.0" x2="155.0" y2="-27.0" stroke-width="2.2"/>
<line x1="162.0" y1="-50.0" x2="159.0" y2="-27.0" stroke-width="2.2"/>
<line x1="166.0" y1="-50.0" x2="163.0" y2="-27.0" stroke-width="2.2"/>
<line x1="170.0" y1="-50.0" x2="167.0" y2="-27.0" stroke-width="2.2"/>
<line x1="174.0" y1="-50.0" x2="171.0" y2="-27.0" stroke-width="2.2"/>
<line x1="178.0" y1="-50.0" x2="175.0" y2="-27.0" stroke-width="2.2"/>
<line x1="182.0" y1="-50.0" x2="179.0" y2="-27.0" stroke-width="2.2"/>
<line x1="186.0" y1="-50.0" x2="183.0" y2="-27.0" stroke-width="2.2"/>
<line x1="190.0" y1="-50.0" x2="187.0" y2="-27.0" stroke-width="2.2"/>
<line x1="194.0" y1="-50.0" x2="191.0" y2="-27.0" stroke-width="2.2"/>
</g>
<g clip-path="url(#stR)">
<line x1="132.0" y1="26.0" x2="129.0" y2="46.0" stroke-width="2.2"/>
<line x1="136.0" y1="26.0" x2="133.0" y2="46.0" stroke-width="2.2"/>
<line x1="140.0" y1="26.0" x2="137.0" y2="46.0" stroke-width="2.2"/>
<line x1="144.0" y1="26.0" x2="141.0" y2="46.0" stroke-width="2.2"/>
<line x1="148.0" y1="26.0" x2="145.0" y2="46.0" stroke-width="2.2"/>
<line x1="152.0" y1="26.0" x2="149.0" y2="46.0" stroke-width="2.2"/>
<line x1="156.0" y1="26.0" x2="153.0" y2="46.0" stroke-width="2.2"/>
<line x1="160.0" y1="26.0" x2="157.0" y2="46.0" stroke-width="2.2"/>
<line x1="164.0" y1="26.0" x2="161.0" y2="46.0" stroke-width="2.2"/>
<line x1="168.0" y1="26.0" x2="165.0" y2="46.0" stroke-width="2.2"/>
<line x1="172.0" y1="26.0" x2="169.0" y2="46.0" stroke-width="2.2"/>
<line x1="176.0" y1="26.0" x2="173.0" y2="46.0" stroke-width="2.2"/>
<line x1="180.0" y1="26.0" x2="177.0" y2="46.0" stroke-width="2.2"/>
<line x1="184.0" y1="26.0" x2="181.0" y2="46.0" stroke-width="2.2"/>
<line x1="188.0" y1="26.0" x2="185.0" y2="46.0" stroke-width="2.2"/>
<line x1="192.0" y1="26.0" x2="189.0" y2="46.0" stroke-width="2.2"/>
<line x1="196.0" y1="26.0" x2="193.0" y2="46.0" stroke-width="2.2"/>
</g>
<polyline points="108.7,-96.1 166.0,-96.5 169.0,-93.0 173.0,-47.0 186.0,-47.0 191.0,-44.0 190.0,-30.0 109.0,-29.0" stroke-width="3.2" fill="none"/>
<polyline points="108.7,-96.1 100.0,-88.0 88.0,-71.0" stroke-width="3.2" fill="none"/>
<polyline points="113.0,-29.0 112.0,-47.0" stroke-width="2.5" fill="none"/>
<line x1="113.0" y1="-47.0" x2="186.0" y2="-47.0" stroke-width="2.5"/>
<polygon points="190.0,-30.0 189.0,30.0 133.0,29.0 116.0,-28.0" stroke-width="3.2" fill="none"/>
<g stroke-dasharray="5 3">
<line x1="185.0" y1="-28.0" x2="184.0" y2="28.0" stroke-width="1.6"/>
</g>
<polygon points="189.0,30.0 191.0,43.0 137.0,43.0 133.0,29.0" stroke-width="3.2" fill="none"/>
<line x1="137.0" y1="43.0" x2="122.0" y2="83.0" stroke-width="4"/>
<line x1="191.0" y1="-45.0" x2="304.0" y2="-45.0" stroke-width="2.6"/>
<line x1="191.0" y1="-34.0" x2="248.0" y2="-34.0" stroke-width="2.6"/>
<line x1="191.0" y1="33.0" x2="249.0" y2="33.0" stroke-width="2.6"/>
<line x1="192.0" y1="44.0" x2="304.0" y2="44.0" stroke-width="2.6"/>
<line x1="296.0" y1="-45.0" x2="296.0" y2="44.0" stroke-width="2.6"/>
<polygon points="296.0,-45.0 299.9,-26.3 297.2,-23.0 294.8,-23.0 292.1,-26.3" fill="#000" stroke="#000" stroke-width="0.8"/>
<polygon points="296.0,44.0 292.1,25.3 294.8,22.0 297.2,22.0 299.9,25.3" fill="#000" stroke="#000" stroke-width="0.8"/>
<line x1="240.0" y1="-210.0" x2="240.0" y2="33.0" stroke-width="2.6"/>
<polygon points="240.0,-34.0 243.9,-15.3 241.2,-12.0 238.8,-12.0 236.1,-15.3" fill="#000" stroke="#000" stroke-width="0.8"/>
<polygon points="240.0,33.0 236.1,14.3 238.8,11.0 241.2,11.0 243.9,14.3" fill="#000" stroke="#000" stroke-width="0.8"/>
</g>
<g transform="translate(1075 573) rotate(39.5)">
<path d="M0.63,0 L1,0 L1,1 L0.63,1 L0.63,0.31 L0,0.31 L0,0.20 C0.30,0.19 0.55,0.12 0.63,0 Z" transform="translate(-229.4,-281.4) scale(11.800,32.300)" fill="#000" stroke="#000" stroke-width="1.2" vector-effect="non-scaling-stroke"/>
<text x="0" y="0" font-size="100" text-anchor="middle" transform="translate(-201.5,-249.1) scale(0.4214,0.4621)" fill="#000" stroke="#000" stroke-width="1.2" vector-effect="non-scaling-stroke">/</text>
<text x="0" y="0" font-size="100" text-anchor="middle" transform="translate(-181.5,-249.1) scale(0.4360,0.4609)" fill="#000" stroke="#000" stroke-width="1.2" vector-effect="non-scaling-stroke">4</text>
<text x="0" y="0" font-size="100" text-anchor="middle" transform="translate(-160.5,-251.7) scale(0.3769,0.4240)" fill="#000" stroke="#000" stroke-width="1.2" vector-effect="non-scaling-stroke">"</text>
<text x="0" y="0" font-size="100" text-anchor="middle" transform="translate(-119.3,-249.1) scale(0.4431,0.4617)" fill="#000" stroke="#000" stroke-width="1.2" vector-effect="non-scaling-stroke">G</text>
<text x="0" y="0" font-size="100" text-anchor="middle" transform="translate(-90.0,-249.1) scale(0.4078,0.4568)" fill="#000" stroke="#000" stroke-width="1.2" vector-effect="non-scaling-stroke">a</text>
<text x="0" y="0" font-size="100" text-anchor="middle" transform="translate(-65.3,-249.1) scale(0.4605,0.4568)" fill="#000" stroke="#000" stroke-width="1.2" vector-effect="non-scaling-stroke">s</text>
<text x="0" y="0" font-size="100" text-anchor="middle" transform="translate(-24.0,-308.5) scale(0.3829,0.4703)" fill="#000" stroke="#000" stroke-width="1.2" vector-effect="non-scaling-stroke">Ø</text>
<path d="M0.63,0 L1,0 L1,1 L0.63,1 L0.63,0.31 L0,0.31 L0,0.20 C0.30,0.19 0.55,0.12 0.63,0 Z" transform="translate(4.6,-340.4) scale(10.800,32.800)" fill="#000" stroke="#000" stroke-width="1.2" vector-effect="non-scaling-stroke"/>
<text x="0" y="0" font-size="100" text-anchor="middle" transform="translate(36.0,-307.6) scale(0.4957,0.4688)" fill="#000" stroke="#000" stroke-width="1.2" vector-effect="non-scaling-stroke">9</text>
</g>
<g fill="#b3b3b3" stroke="none">
<rect x="1368" y="1020" width="37" height="37.5" rx="6"/>
<rect x="1413" y="1020" width="37" height="37.5" rx="6"/>
<rect x="1458" y="1020" width="37" height="37.5" rx="6"/>
</g>
<g stroke="#fff" stroke-width="2.2" fill="none" stroke-linecap="butt" stroke-linejoin="miter">
<polyline points="1374,1052 1374,1026 1386.5,1050 1399,1026 1399,1052"/>
<polyline points="1421,1027 1442,1027"/><polyline points="1431.5,1027 1431.5,1052"/>
<polyline points="1464,1052 1464,1026 1476.5,1050 1489,1026 1489,1052"/>
</g>
<text x="1372.0" y="1074.5" font-size="19.5" textLength="119" lengthAdjust="spacingAndGlyphs" text-anchor="start" fill="#a0a0a0" stroke="#a0a0a0" stroke-width="0" >MOTOMARINE</text>
<circle cx="946.5" cy="770.0" r="1.3" stroke-width="0" fill="#000"/>
<circle cx="1205.5" cy="766.0" r="1.3" stroke-width="0" fill="#000"/>
</svg></body></html>
